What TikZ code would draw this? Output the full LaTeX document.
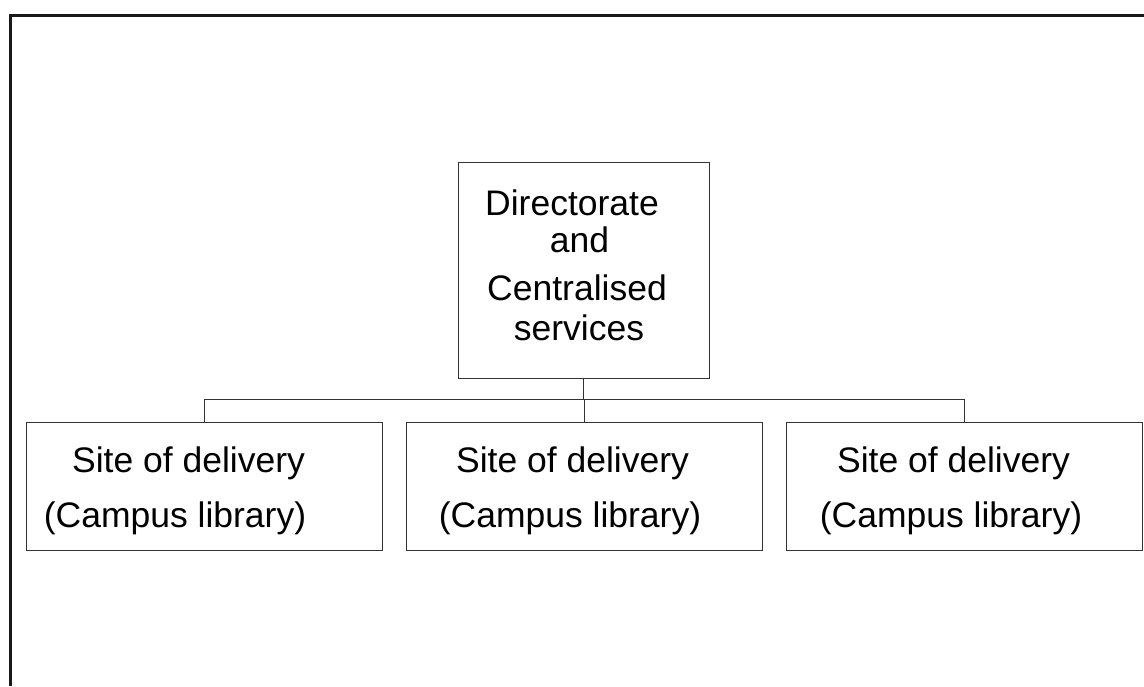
\documentclass[tikz,border=0pt]{standalone}
\usepackage{fontspec}
\setmainfont{Liberation Sans}
\usepackage{tikz}
\usetikzlibrary{calc,positioning}
\definecolor{OrgInk}{HTML}{000000}
\definecolor{OrgLine}{HTML}{333333}
\tikzset{
  orgtext/.style={font=\fontsize{35.5}{40}\selectfont, text=OrgInk, inner sep=0pt, anchor=base},
  orgbox/.style={draw=OrgLine, line width=1pt, fill=white, inner sep=0pt},
  orglink/.style={draw=OrgLine, line width=0.9pt},
  orgframe/.style={draw=OrgInk!90, line width=3pt}
}
\begin{document}
\begin{tikzpicture}[x=1pt, y=-1pt, sitebox/.style={orgbox, minimum width=356pt, minimum height=128pt}]
\useasboundingbox (0,0) rectangle (1144,686);
\draw[orgframe] (10,686) -- (10,15) -- (1144,15);
% head of the tree
\node[orgbox, minimum width=251pt, minimum height=216pt] (dir) at (583.5,270) {};
\node[orgtext] (dir1) at (572,215) {Directorate};
\node[orgtext] (dir2) at (579.5,252) {and};
\node[orgtext] (dir3) at (577,300) {Centralised};
\node[orgtext] (dir4) at (579,340) {services};
% campus libraries
\foreach \n/\x/\a/\b in {1/204/-15.5/-29, 2/584/-11.5/-14, 3/964/-10.5/-13} {
  \node[sitebox] (site\n) at (\x,486) {};
  \node[orgtext] (site\n a) at ($(site\n.center)+(\a,-14)$) {Site of delivery};
  \node[orgtext] (site\n b) at ($(site\n.center)+(\b,41)$) {(Campus library)};
}
\coordinate (bus) at (0,399);
\draw[orglink] (dir.south) -- (dir.south |- bus);
\draw[orglink] (site1.north) -- (site1.north |- bus) -- (site3.north |- bus) -- (site3.north);
\draw[orglink] (site2.north) -- (site2.north |- bus);
\end{tikzpicture}
\end{document}
